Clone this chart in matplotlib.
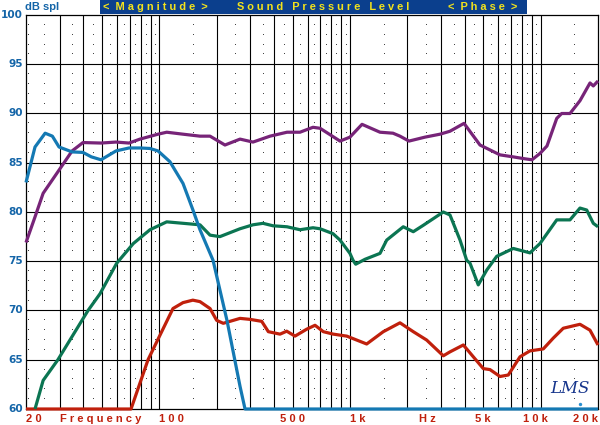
import matplotlib
matplotlib.use("Agg")
import matplotlib.pyplot as plt
from matplotlib.patches import Rectangle
import numpy as np

# ---------------- data ----------------
purple_f = [20, 22.3, 24.6, 29.8, 34.9, 39.8, 49.5, 59.3, 69.4, 79.2, 98.5, 109.4, 133.2, 163.5,
            184.6, 221.1, 265.2, 310.1, 381, 467.6, 547, 640, 697, 887, 1000, 1157, 1438,
            1682, 1830, 2040, 2475, 2967, 3347, 3966, 4810, 5235, 6124, 7164, 8280, 9013,
            9928, 10800, 12150, 12900, 14260, 16090, 18160, 18900, 20000]
purple_db = [76.9, 79.5, 81.9, 84.25, 86.2, 87.05, 87.0, 87.1, 87.0, 87.4, 87.9, 88.1, 87.9, 87.7,
             87.7, 86.8, 87.4, 87.1, 87.7, 88.1, 88.1, 88.6, 88.5, 87.2, 87.6, 88.9, 88.1,
             88.0, 87.7, 87.2, 87.6, 87.9, 88.2, 89.0, 86.8, 86.45, 85.8, 85.6, 85.4, 85.3,
             85.95, 86.7, 89.5, 90.0, 90.0, 91.3, 93.1, 92.8, 93.3]

blue_f = [20, 22.3, 25.2, 27.5, 29.8, 34.9, 39.8, 44, 49.5, 59.3, 69.4, 79.2, 89.4, 98.5,
          113.8, 120.9, 133.2, 150.2, 163.5, 191.4, 226.5, 265.2, 281.7, 20000]
blue_db = [83.0, 86.6, 88.0, 87.7, 86.6, 86.1, 86.05, 85.6, 85.3, 86.2, 86.5, 86.5, 86.45, 86.2,
           85.1, 84.25, 82.9, 80.2, 78.2, 75.1, 69.0, 62.3, 60.0, 60.0]

green_f = [22.3, 24.6, 29.4, 34.0, 42.3, 48.9, 59.8, 73.1, 89.4, 109.4, 133.7, 163.5, 184.6,
           208, 265.2, 310.1, 350, 395, 467.6, 547, 640, 697, 815, 887, 1000, 1038, 1072,
           1200, 1438, 1559, 1904, 2149, 2425, 3088, 3347, 3779, 4096, 4264, 4711, 5216,
           5886, 7189, 8797, 9928, 12150, 14260, 16090, 17450, 18900, 20000]
green_db = [60.0, 62.9, 65.0, 67.0, 70.0, 71.7, 74.8, 76.8, 78.2, 79.0, 78.85, 78.7, 77.65,
            77.5, 78.3, 78.7, 78.85, 78.6, 78.5, 78.2, 78.4, 78.3, 77.8, 77.15, 75.8, 75.1, 74.7,
            75.2, 75.8, 77.15, 78.5, 78.0, 78.65, 80.0, 79.7, 77.15, 75.1, 74.8, 72.6, 74.1,
            75.5, 76.3, 75.85, 76.8, 79.2, 79.2, 80.4, 80.2, 78.85, 78.5]

red_f = [20, 71.1, 87.3, 100.9, 118.0, 133.2, 150.0, 163.5, 184.6, 200, 216.6, 234.9, 265.2,
         299.1, 344.6, 373.3, 429.8, 466, 515, 593, 656, 725, 818, 962, 1224, 1496, 1830,
         2149, 2526, 3088, 3347, 3933, 4436, 5006, 5428, 6124, 6767, 7797, 8797, 10330,
         11655, 13150, 16090, 18160, 20000]
red_db = [60.0, 60.0, 65.0, 67.5, 70.2, 70.8, 71.05, 70.9, 70.2, 69.0, 68.7, 68.9, 69.2,
          69.1, 68.9, 67.85, 67.6, 67.9, 67.4, 68.1, 68.5, 67.85, 67.6, 67.4, 66.6, 67.85, 68.75,
          67.85, 67.0, 65.4, 65.8, 66.5, 65.3, 64.1, 64.0, 63.3, 63.45, 65.3, 65.9, 66.1,
          67.2, 68.2, 68.6, 68.0, 66.5]

y_ticks = [100, 95, 90, 85, 80, 75, 70, 65, 60]
x_labels = ["2 0", "F r e q u e n c y", "1 0 0", "5 0 0", "1 k", "H z", "5 k", "1 0 k", "2 0 k"]
x_label_pos = [20, 30, 100, 500, 1000, 2300, 5000, 9400, 20000]
x_label_ha = ["left", "left", "left", "center", "left", "left", "center", "center", "right"]

# ---------------- figure ----------------
W, H = 600, 425
fig = plt.figure(figsize=(6, 4.25), dpi=100)
fig.patch.set_facecolor("white")
L, R, B, T = 26, 598, 409, 15
ax = fig.add_axes([L / W, (H - B) / H, (R - L) / W, (B - T) / H])
ax.set_xscale("log")
ax.set_xlim(20, 20000)
ax.set_ylim(60, 100)
ax.set_xticks([])
ax.set_yticks([])
ax.minorticks_off()
for s in ax.spines.values():
    s.set_color("black")
    s.set_linewidth(0.9)

# major grid
vlines = list(range(30, 100, 10)) + list(range(100, 1000, 100)) + list(range(1000, 10000, 1000)) + [10000]
for v in vlines:
    ax.axvline(v, color="black", lw=0.8, zorder=1)
for hv in range(65, 100, 5):
    ax.axhline(hv, color="black", lw=0.8, zorder=1)

# minor dotted grid (dots at half steps)
minor_f = [25 + 10 * i for i in range(8)] + [150 + 100 * i for i in range(9)] + \
          [1500 + 1000 * i for i in range(9)] + [15000]
minor_db = [d for d in range(61, 100) if d % 5 != 0]
mx, my = np.meshgrid(minor_f, minor_db)
ax.plot(mx.ravel(), my.ravel(), linestyle="none", marker=",", color="#444444", zorder=1)
# small ticks along left frame
ax.plot([20.5] * len(minor_db), minor_db, linestyle="none", marker=",", color="#333333", zorder=1)

lw = 2.3
kw = dict(lw=lw, solid_joinstyle="round", solid_capstyle="butt", clip_on=False)
ax.plot(red_f, red_db, color="#c0200c", zorder=3, **kw)
ax.plot(green_f, green_db, color="#0b7552", zorder=4, **kw)
ax.plot(purple_f, purple_db, color="#772478", zorder=5, **kw)
ax.plot(blue_f, blue_db, color="#1479b3", zorder=6, **kw)

# y labels
for yv in y_ticks:
    ax.text(-0.006, yv, str(yv), transform=ax.get_yaxis_transform(), ha="right", va="center",
            fontsize=7.6, fontweight="bold", color="#1465a8", family="DejaVu Sans")

# x labels
for s, p, ha in zip(x_labels, x_label_pos, x_label_ha):
    ax.text(p, -0.012, s, transform=ax.get_xaxis_transform(), ha=ha, va="top",
            fontsize=8, fontweight="bold", color="#c0200c", family="Liberation Sans")

# header bar
fig.patches.append(Rectangle((100 / W, (H - 14) / H), 427 / W, 14 / H, transform=fig.transFigure,
                             facecolor="#0b3f8d", edgecolor="none", zorder=0))
hy = (H - 7.5) / H
hdr = dict(fontsize=7.9, fontweight="bold", color="#f2e21c", family="Liberation Sans", va="center", ha="left")
fig.text(103 / W, hy, "<  M a g n i t u d e  >", **hdr)
fig.text(237 / W, hy, "S o u n d   P r e s s u r e   L e v e l", **hdr)
fig.text(448 / W, hy, "<  P h a s e  >", **hdr)
fig.text(25 / W, hy, "dB spl", fontsize=8, fontweight="bold", color="#1465a8",
         family="Liberation Sans", va="center", ha="left")

# LMS logo
ax.text(0.951, 0.03, "LMS", transform=ax.transAxes, fontsize=12, fontstyle="italic",
        color="#16358c", family="DejaVu Serif", ha="center", va="bottom", zorder=7,
        bbox=dict(facecolor="white", edgecolor="none", pad=0.5))
ax.scatter([0.9685], [0.012], s=6, color="#2a8fd0", transform=ax.transAxes, zorder=8, lw=0)

fig.savefig("out.png", dpi=100, facecolor="white")
